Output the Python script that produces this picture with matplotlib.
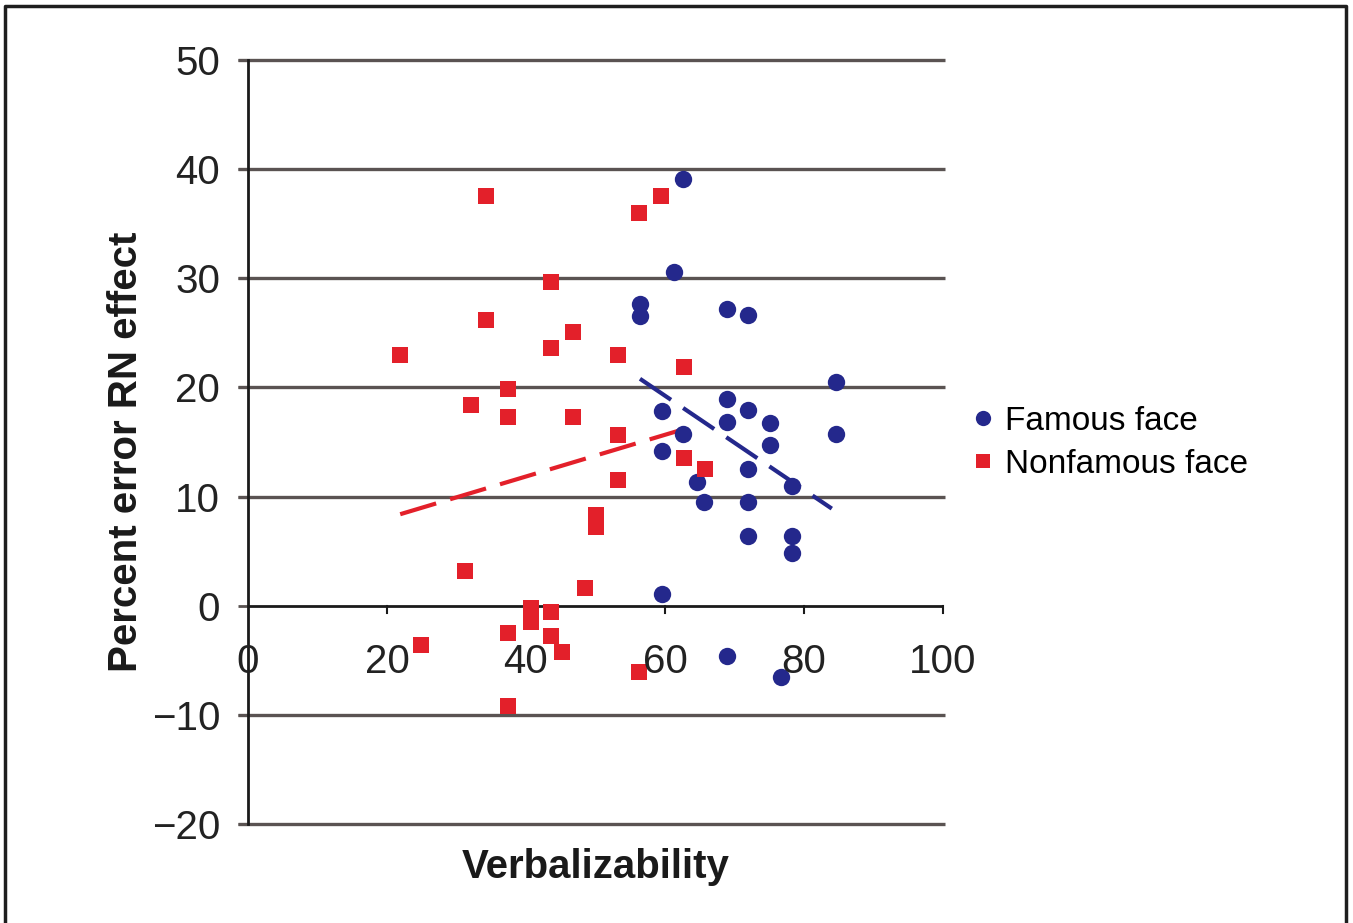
"""
Scatter of percent error RN effect against verbalizability,
famous vs nonfamous faces, with a dashed trend line for each group.
"""

import matplotlib
matplotlib.use("Agg")
import matplotlib.pyplot as plt
from matplotlib.lines import Line2D
import numpy as np

# famous faces (blue circles)
famous_x = [62.6, 61.3, 56.4, 56.4, 68.9, 71.9, 84.6, 68.9, 59.6, 71.9,
            75.1, 68.9, 62.6, 84.6, 75.1, 59.6, 71.9, 64.6, 78.3, 65.6,
            71.9, 71.9, 78.3, 78.3, 59.6, 68.9, 76.7]
famous_y = [39.1, 30.6, 27.6, 26.5, 27.2, 26.6, 20.5, 18.9, 17.8, 17.9,
            16.7, 16.8, 15.7, 15.7, 14.7, 14.2, 12.5, 11.3, 11.0, 9.5,
            9.5, 6.4, 6.4, 4.8, 1.1, -4.6, -6.5]

# nonfamous faces (red squares)
nonfamous_x = [21.9, 24.9, 34.2, 34.2, 32.1, 31.2, 37.4, 37.4, 37.4, 37.4,
               40.7, 40.7, 43.6, 43.6, 45.2, 43.6, 43.6, 46.8, 46.8, 48.5,
               50.1, 50.1, 53.2, 53.2, 53.2, 56.3, 56.3, 59.4, 62.7, 62.7,
               65.8]
nonfamous_y = [23.0, -3.6, 37.5, 26.2, 18.4, 3.2, 19.9, 17.3, -2.5, -9.2,
               -0.2, -1.5, -0.6, -2.8, -4.2, 29.7, 23.6, 25.1, 17.3, 1.6,
               8.3, 7.2, 23.0, 15.6, 11.5, 36.0, -6.1, 37.5, 21.9, 13.5,
               12.5]

# linear trends: (slope, intercept, x start, x end)
famous_trend = (-0.431, 45.1, 56.4, 84.0)
nonfamous_trend = (0.191, 4.2, 21.9, 62.7)

x_ticks = [0, 20, 40, 60, 80, 100]
y_ticks = [-20, -10, 0, 10, 20, 30, 40, 50]

BLUE = "#24288c"
RED = "#e3202a"
GRID = "#5a5352"

plt.rcParams["font.family"] = ["Liberation Sans", "DejaVu Sans"]

fig = plt.figure(figsize=(13.53, 9.23), dpi=100)
ax = fig.add_axes([248 / 1353, 1 - 824 / 923, 695 / 1353, 764 / 923])

ax.set_xlim(0, 100)
ax.set_ylim(-20, 50)

for yv in y_ticks:
    if yv == 0:
        continue
    ax.plot([-1.5, 100.3], [yv, yv], color=GRID, lw=2.4,
            clip_on=False, zorder=1, solid_capstyle="butt")

ax.plot([0, 100], [0, 0], color="#1a1a1a", lw=2.0, zorder=2,
        solid_capstyle="butt")

for slope, icpt, x0, x1, col in (famous_trend + (BLUE,),
                                 nonfamous_trend + (RED,)):
    tx = np.array([x0, x1])
    ax.plot(tx, slope * tx + icpt, color=col, lw=3.0,
            dashes=(9, 3.5), zorder=3)

ax.plot(famous_x, famous_y, "o", color=BLUE, ms=12.5, mew=0, zorder=4,
        clip_on=False)
ax.plot(nonfamous_x, nonfamous_y, "s", color=RED, ms=12, mew=0, zorder=4,
        clip_on=False)

ax.spines["top"].set_visible(False)
ax.spines["right"].set_visible(False)
ax.spines["bottom"].set_visible(False)
ax.spines["left"].set_linewidth(2.0)
ax.spines["left"].set_color("#1a1a1a")
ax.spines["left"].set_zorder(2)

ax.set_yticks(y_ticks)
ax.set_yticklabels(["\u2212" + str(-v) if v < 0 else str(v) for v in y_ticks])
ax.tick_params(axis="y", direction="out", length=7, width=2, color=GRID,
               pad=13, labelsize=29, labelcolor="#222222")

# x axis sits on y = 0, so ticks and labels are drawn there
ax.set_xticks(x_ticks)
ax.set_xticklabels([])
ax.tick_params(axis="x", length=0)
for xv in x_ticks[1:]:
    ax.plot([xv, xv], [0, -0.7], color="#1a1a1a", lw=1.5, zorder=2,
            clip_on=False)
for xv in x_ticks:
    ax.text(xv, -5.2, str(xv), ha="center", va="center", fontsize=29,
            color="#222222", zorder=5)

ax.set_xlabel("Verbalizability", fontsize=29, fontweight="bold",
              color="#1a1a1a", labelpad=0)
ax.xaxis.set_label_coords(0.50, -0.032)
ax.set_ylabel("Percent error RN effect", fontsize=29, fontweight="bold",
              color="#1a1a1a", labelpad=0)
ax.yaxis.set_label_coords(-0.148, 0.487)

handles = [
    Line2D([], [], ls="none", marker="o", color=BLUE, ms=11, mew=0),
    Line2D([], [], ls="none", marker="s", color=RED, ms=10.5, mew=0),
]
fig.legend(handles, ["Famous face", "Nonfamous face"], loc="center left",
           bbox_to_anchor=(973 / 1353, 1 - 443 / 923), frameon=False,
           fontsize=24, handlelength=0.6, handletextpad=0.35,
           labelspacing=0.35, borderpad=0, borderaxespad=0)

# outer border (top, left, right)
fig.add_artist(Line2D([5 / 1353, 5 / 1353, 1346 / 1353, 1346 / 1353],
                      [0, 1 - 6 / 923, 1 - 6 / 923, 0],
                      color="#1e1e1e", lw=2.5, transform=fig.transFigure))

fig.savefig("out.png", dpi=100)
plt.close(fig)
